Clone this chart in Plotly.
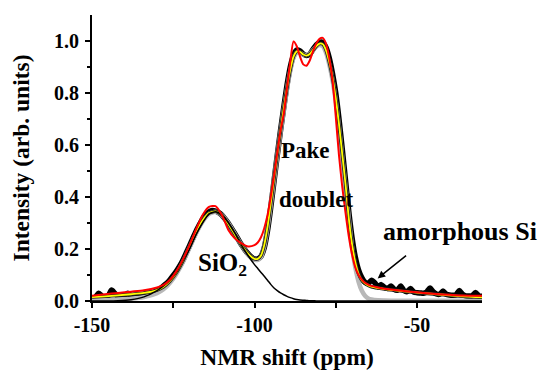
import plotly.graph_objects as go

# ---------------- data ----------------
X_FIT = [-150, -146, -142, -138, -134, -130, -128, -126, -124, -122, -120, -118, -116, -114,
         -112, -110, -108, -106, -104, -102, -100, -99, -98, -97, -96, -95, -94, -93, -92,
         -91, -90, -89, -88, -87, -86, -85, -84, -83, -82, -81, -80, -79, -78, -77, -76,
         -75, -74, -73, -72, -71, -70, -69, -68, -67, -66, -65, -64, -62, -60, -56, -52,
         -48, -44, -40, -36, -32, -30]

Y_YELLOW = [0.015, 0.018, 0.022, 0.026, 0.031, 0.042, 0.055, 0.077, 0.11, 0.155, 0.21, 0.265,
            0.31, 0.338, 0.345, 0.33, 0.295, 0.255, 0.215, 0.182, 0.162, 0.162, 0.175, 0.215,
            0.285, 0.375, 0.47, 0.565, 0.655, 0.74, 0.82, 0.89, 0.94, 0.96, 0.958, 0.948,
            0.944, 0.95, 0.965, 0.98, 0.99, 0.988, 0.965, 0.92, 0.86, 0.78, 0.68, 0.565,
            0.45, 0.32, 0.22, 0.15, 0.105, 0.08, 0.068, 0.06, 0.055, 0.05, 0.046, 0.04,
            0.035, 0.03, 0.026, 0.022, 0.018, 0.015, 0.014]

Y_RED = [0.02, 0.026, 0.031, 0.036, 0.041, 0.052, 0.062, 0.082, 0.115, 0.16, 0.215, 0.275,
         0.33, 0.362, 0.365, 0.33, 0.272, 0.24, 0.222, 0.21, 0.215, 0.225, 0.245, 0.28,
         0.33, 0.4, 0.48, 0.57, 0.655, 0.72, 0.82, 0.92, 0.998, 0.98, 0.94, 0.91,
         0.905, 0.925, 0.96, 0.99, 1.008, 1.012, 0.99, 0.935, 0.85, 0.71, 0.56, 0.44,
         0.34, 0.25, 0.18, 0.13, 0.1, 0.082, 0.07, 0.063, 0.058, 0.052, 0.047, 0.041,
         0.036, 0.031, 0.027, 0.024, 0.021, 0.02, 0.02]

Y_GRAY = [0.003, 0.004, 0.006, 0.009, 0.015, 0.03, 0.045, 0.07, 0.105, 0.15, 0.205, 0.26,
          0.305, 0.335, 0.343, 0.33, 0.297, 0.256, 0.215, 0.18, 0.16, 0.158, 0.17, 0.21,
          0.28, 0.37, 0.465, 0.56, 0.65, 0.735, 0.815, 0.885, 0.935, 0.955, 0.955, 0.948,
          0.946, 0.952, 0.965, 0.978, 0.985, 0.98, 0.955, 0.91, 0.85, 0.77, 0.67, 0.555,
          0.44, 0.32, 0.21, 0.13, 0.075, 0.04, 0.02, 0.01, 0.006, 0.003, 0.002, 0.001,
          0.001, 0.001, 0.001, 0.001, 0.001, 0.001, 0.001]

Y_SIO2 = [0.0, 0.0, 0.001, 0.005, 0.016, 0.04, 0.058, 0.08, 0.11, 0.155, 0.2, 0.255,
          0.3, 0.335, 0.343, 0.33, 0.3, 0.26, 0.215, 0.175, 0.14, 0.125, 0.11, 0.095,
          0.08, 0.064, 0.05, 0.04, 0.031, 0.024, 0.018, 0.013, 0.009, 0.006, 0.004, 0.003,
          0.002, 0.001, 0.001, 0.0, 0.0, 0.0, 0.0, 0.0, 0.0, 0.0, 0.0, 0.0,
          0.0, 0.0, 0.0, 0.0, 0.0, 0.0, 0.0, 0.0, 0.0, 0.0, 0.0, 0.0,
          0.0, 0.0, 0.0, 0.0, 0.0, 0.0, 0.0]

X_DATA = list(range(-150, -29))
Y_DATA = [0.012, 0.014, 0.03, 0.02, 0.014, 0.02, 0.042, 0.03, 0.016, 0.018,
          0.02, 0.03, 0.02, 0.02, 0.021, 0.022, 0.025, 0.03, 0.028, 0.033,
          0.04, 0.048, 0.058, 0.068, 0.082, 0.098, 0.115, 0.135, 0.158, 0.185,
          0.212, 0.24, 0.268, 0.292, 0.315, 0.333, 0.343, 0.348, 0.346, 0.34,
          0.33, 0.315, 0.298, 0.278, 0.258, 0.237, 0.216, 0.198, 0.182, 0.17,
          0.162, 0.162, 0.172, 0.205, 0.27, 0.36, 0.46, 0.56, 0.655, 0.745,
          0.83, 0.9, 0.945, 0.965, 0.962, 0.95, 0.944, 0.95, 0.968, 0.985,
          0.995, 0.995, 0.975, 0.935, 0.875, 0.8, 0.7, 0.585, 0.465, 0.345,
          0.245, 0.17, 0.12, 0.09, 0.072, 0.068, 0.08, 0.07, 0.055, 0.063,
          0.052, 0.048, 0.058, 0.045, 0.042, 0.058, 0.04, 0.036, 0.048, 0.034,
          0.032, 0.031, 0.03, 0.035, 0.05, 0.035, 0.027, 0.026, 0.038, 0.026,
          0.023, 0.022, 0.024, 0.04, 0.026, 0.02, 0.019, 0.02, 0.033, 0.02,
          0.018]

assert len(X_FIT) == len(Y_YELLOW) == len(Y_RED) == len(Y_GRAY) == len(Y_SIO2)
assert len(X_DATA) == len(Y_DATA)

X_TICKS = [-150, -100, -50]
X_TICK_TEXT = ["-150", "-100", "-50"]
Y_TICKS = [0.0, 0.2, 0.4, 0.6, 0.8, 1.0]
Y_TICK_TEXT = ["0.0", "0.2", "0.4", "0.6", "0.8", "1.0"]

FONT = "Liberation Serif"

fig = go.Figure()
sp = dict(shape="spline", smoothing=0.6)
fig.add_trace(go.Scatter(x=X_DATA, y=Y_DATA, mode="lines",
                         line=dict(color="black", width=5.5, **sp)))
fig.add_trace(go.Scatter(x=X_FIT, y=Y_GRAY, mode="lines",
                         line=dict(color="#b8b8b8", width=4.5, **sp)))
fig.add_trace(go.Scatter(x=X_FIT, y=Y_YELLOW, mode="lines",
                         line=dict(color="#222222", width=3.5, **sp)))
fig.add_trace(go.Scatter(x=X_FIT, y=Y_YELLOW, mode="lines",
                         line=dict(color="#ffff00", width=1.8, **sp)))
fig.add_trace(go.Scatter(x=X_FIT, y=Y_SIO2, mode="lines",
                         line=dict(color="black", width=1.5, **sp)))
fig.add_trace(go.Scatter(x=X_FIT, y=Y_RED, mode="lines",
                         line=dict(color="#ff0000", width=2, **sp)))

ann_font = dict(family=FONT, size=23, color="black", weight="bold")
fig.add_annotation(x=-84.4, y=0.58, xref="x", yref="y", text="Pake",
                   showarrow=False, font=ann_font)
fig.add_annotation(x=-81.0, y=0.39, xref="x", yref="y", text="doublet",
                   showarrow=False, font=ann_font)
fig.add_annotation(x=-109.9, y=0.14, xref="x", yref="y", text="SiO<sub>2</sub>",
                   showarrow=False, font=dict(family=FONT, size=25, color="black", weight="bold"))
fig.add_annotation(x=1.145, y=0.267, xref="paper", yref="y", text="amorphous Si",
                   xanchor="right", showarrow=False,
                   font=dict(family=FONT, size=26, color="black", weight="bold"))
fig.add_annotation(x=-62.1, y=0.087, ax=-52.9, ay=0.179, xref="x", yref="y",
                   axref="x", ayref="y", text="", showarrow=True, arrowhead=2,
                   arrowsize=1, arrowwidth=1.5, arrowcolor="black")

tickfont = dict(family=FONT, size=20, color="black", weight="bold")
titlefont = dict(family=FONT, size=23.5, color="black", weight="bold")

fig.update_xaxes(range=[-150, -30], tickvals=X_TICKS, ticktext=X_TICK_TEXT,
                 showline=True, linecolor="black", linewidth=2, ticks="outside",
                 ticklen=5, tickwidth=1.5, tickcolor="black", showgrid=False,
                 zeroline=False, tickfont=tickfont, automargin=False,
                 minor=dict(ticks="outside", ticklen=5, tickwidth=1.5, tickcolor="black",
                            tickvals=[-125, -75, -25]),
                 title=dict(text="NMR shift (ppm)", font=titlefont, standoff=16))
fig.update_yaxes(range=[0, 1.1], tickvals=Y_TICKS, ticktext=Y_TICK_TEXT,
                 showline=True, linecolor="black", linewidth=2, ticks="outside",
                 ticklen=5, tickwidth=1.5, tickcolor="black", showgrid=False,
                 zeroline=False, tickfont=tickfont, automargin=False,
                 ticklabelstandoff=2,
                 minor=dict(ticks="outside", ticklen=3, tickwidth=1.5, tickcolor="black",
                            tickvals=[0.1, 0.3, 0.5, 0.7, 0.9]),
                 title=dict(text="Intensity (arb. units)", font=titlefont, standoff=18))

fig.update_layout(width=539, height=370, showlegend=False,
                  margin=dict(l=92, r=57, t=15, b=69),
                  plot_bgcolor="white", paper_bgcolor="white")

fig.write_html("out.html")
